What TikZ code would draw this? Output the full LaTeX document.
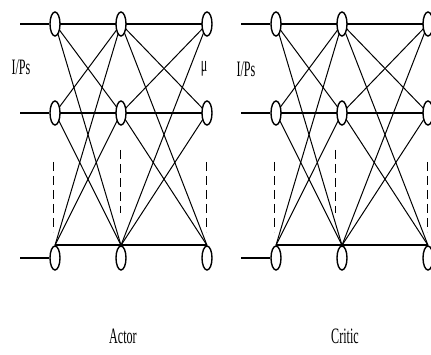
\documentclass[tikz,border=0pt]{standalone}
\usepackage{graphicx}
\usepackage{fontspec}
\setmainfont{Liberation Serif}
\usetikzlibrary{shapes.geometric}
\pgfdeclarelayer{background}
\pgfsetlayers{background,main}
\newcommand{\squeeze}[1]{\scalebox{.55}[1]{\fontsize{22}{24}\selectfont #1}}
\tikzset{
  unit/.style={ellipse,draw,line width=1.4pt,fill=white,minimum width=10pt,minimum height=24pt,inner sep=0pt},
  wire/.style={line width=1pt},
  mainwire/.style={line width=2pt},
  gap/.style={line width=1pt,dash pattern=on 9pt off 5pt}
}
\begin{document}
\begin{tikzpicture}[x=1pt,y=-1pt]
\useasboundingbox (0,0) rectangle (431,355);
\foreach \n/\dx/\hx in {a/0/120,c/221/335}{
  \foreach \c/\x in {1/55,2/121,3/207}
    \foreach \r/\y in {1/24,2/113,3/258}
      \node[unit] (\n\c\r) at (\x+\dx,\y) {};
  % weights between layers
  \begin{pgfonlayer}{background}
  \foreach \i/\ai in {1/center,2/center,3/north}
    \foreach \j/\aj in {1/center,2/center,3/north}{
      \draw[wire] (\n1\i.\ai) -- (\n2\j.\aj);
      \draw[wire] (\n2\i.\ai) -- (\n3\j.\aj);
    }
  \foreach \r/\ar in {1/center,2/center,3/north}{
    \draw[mainwire] (\n1\r.\ar) -- (\n2\r.\ar) -- (\n3\r.\ar);
  }
  \end{pgfonlayer}
  % inputs
  \foreach \r/\y in {1/24,2/113,3/258}{
    \coordinate (\n in\r) at (20+\dx,\y);
    \draw[mainwire] (\n in\r) -- (\n1\r.west);
  }
  % more units
  \draw[gap] (53+\dx,162) -- (53+\dx,232);
  \draw[gap] (\hx,150) -- (\hx,213);
  \draw[gap] (206+\dx,162) -- (206+\dx,232);
}
\node (ips1) at (21,67) {\squeeze{I/Ps}};
\node (ips2) at (246,69) {\squeeze{I/Ps}};
\node (mu) at (204,69) {\squeeze{μ}};
\node (actor) at (123,336) {\squeeze{Actor}};
\node (critic) at (345,336) {\squeeze{Critic}};
\end{tikzpicture}
\end{document}
